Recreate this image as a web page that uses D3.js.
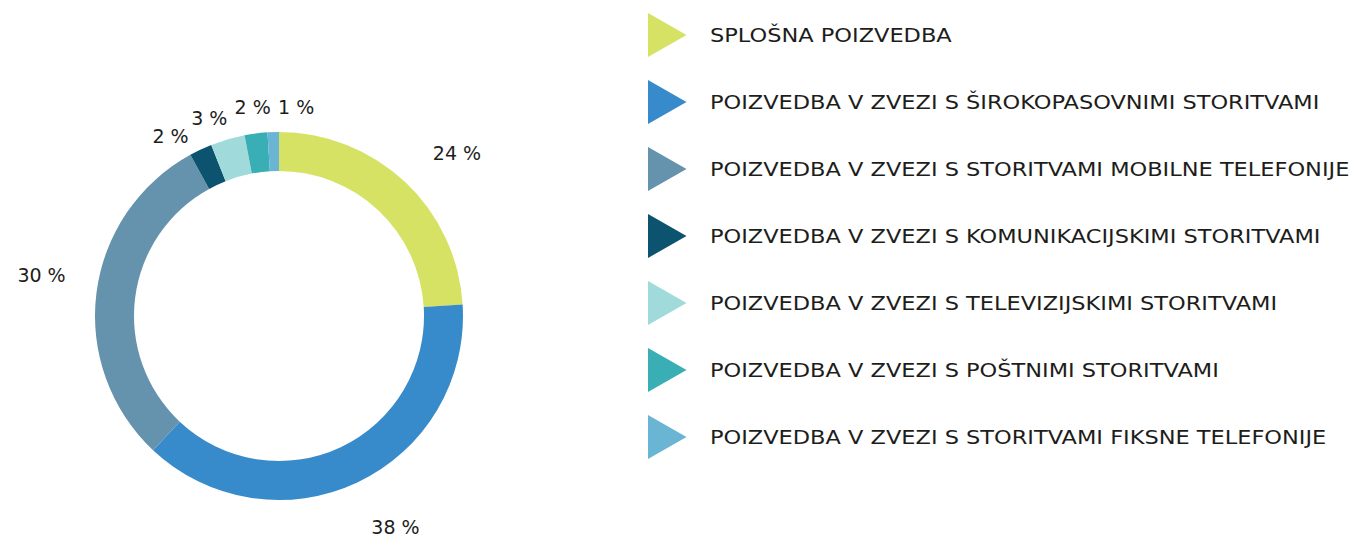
<!DOCTYPE html>
<html>
  <head>
    <meta charset="utf-8">
    <title>Poizvedbe</title>
    <script src="https://cdn.jsdelivr.net/npm/d3@7" type="text/javascript"></script>
    <style>
      body { margin: 0; background: #fff; }
      text { font-family: "DejaVu Sans", "Noto Sans", sans-serif; fill: #1d1d1b; }
    </style>
  </head>
  <body>
    <script>
      // data
      var categories = [
        "SPLOŠNA POIZVEDBA",
        "POIZVEDBA V ZVEZI S ŠIROKOPASOVNIMI STORITVAMI",
        "POIZVEDBA V ZVEZI S STORITVAMI MOBILNE TELEFONIJE",
        "POIZVEDBA V ZVEZI S KOMUNIKACIJSKIMI STORITVAMI",
        "POIZVEDBA V ZVEZI S TELEVIZIJSKIMI STORITVAMI",
        "POIZVEDBA V ZVEZI S POŠTNIMI STORITVAMI",
        "POIZVEDBA V ZVEZI S STORITVAMI FIKSNE TELEFONIJE"
      ];
      var shares = [24, 38, 30, 2, 3, 2, 1];
      var colors = ["#d6e264", "#388bcb", "#6593ae", "#0b536e", "#a1dadb", "#39afb5", "#6ab5d3"];

      // label tweaks (degrees) so the small labels don't collide
      var labelNudge = [4.4, -3.7, 2.6, -5.9, -3.2, 0, 6.5];

      var w = 1353, h = 538;
      var cx = 279, cy = 316;
      var outerR = 184, innerR = 145;
      var fontSize = 19;

      var svg = d3.select("body")
                  .append("svg")
                  .attr("width", w)
                  .attr("height", h);

      var items = categories.map(function(c, i) {
        return {name: c, value: shares[i], color: colors[i], nudge: labelNudge[i]};
      });

      var pie = d3.pie().sort(null).value(function(d) { return d.value; });
      var arc = d3.arc().innerRadius(innerR).outerRadius(outerR);

      var donut = svg.append("g").attr("transform", "translate(" + cx + "," + cy + ")");

      donut.selectAll("path")
           .data(pie(items))
           .enter().append("path")
           .attr("d", arc)
           .attr("fill", function(d) { return d.data.color; });

      // percentage labels
      donut.selectAll(".pct")
           .data(pie(items))
           .enter().append("text")
           .attr("class", "pct")
           .attr("text-anchor", "middle")
           .style("font-size", fontSize + "px")
           .attr("transform", function(d) {
             var a = (d.startAngle + d.endAngle) / 2 + d.data.nudge * Math.PI / 180;
             var r = d.data.value >= 10 ? outerR + 57 : outerR + 26;
             var x = r * Math.sin(a), y = -r * Math.cos(a) + fontSize * 0.36;
             return "translate(" + x + "," + y + ")";
           })
           .text(function(d) { return d.data.value + " %"; });

      // legend
      var rowY = d3.scalePoint().domain(categories).range([35, 437]);

      var legend = svg.append("g").attr("class", "legend");
      var row = legend.selectAll(".row")
                  .data(items)
                  .enter().append("g")
                  .attr("class", "row")
                  .attr("transform", function(d) { return "translate(648," + rowY(d.name) + ")"; });

      row.append("path")
         .attr("d", "M0,-22L38.5,0L0,22Z")
         .attr("fill", function(d) { return d.color; });

      var labels = row.append("text")
         .style("font-size", fontSize + "px")
         .text(function(d) { return d.name; });

      // widen glyphs so the longest line ends where the original does
      var longest = d3.max(labels.nodes(), function(n) { return n.getComputedTextLength(); });
      var sx = (1350 - 710) / longest;
      labels.attr("transform", "translate(62," + (fontSize * 0.36) + ") scale(" + sx + ",1)");
    </script>
  </body>
</html>
